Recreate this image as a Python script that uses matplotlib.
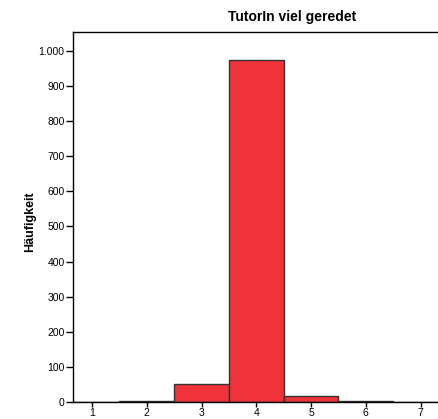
import matplotlib
matplotlib.use("Agg")
import matplotlib.pyplot as plt
from matplotlib.ticker import FuncFormatter

categories = [1, 2, 3, 4, 5, 6, 7]
counts = [1, 3, 51, 975, 17, 2, 0]
yticks = [0, 100, 200, 300, 400, 500, 600, 700, 800, 900, 1000]

plt.rcParams['font.family'] = ['Liberation Sans', 'DejaVu Sans']

W, H = 438, 419
fig = plt.figure(figsize=(W / 100, H / 100), dpi=100)
ax = fig.add_axes([73 / W, 17 / H, 375 / W, 370 / H])

ax.bar(categories, counts, width=1.0, color='#F0323A', edgecolor='#333333', linewidth=1.0, zorder=2)

ax.set_xlim(0.653, 7.5)
ax.set_ylim(0, 1054)
ax.set_xticks(categories)
ax.set_yticks(yticks)
ax.yaxis.set_major_formatter(FuncFormatter(lambda v, p: f"{int(v):,}".replace(",", ".")))
ax.tick_params(axis='y', direction='out', length=5, width=1, labelsize=7.5, colors='#000000', pad=1)
ax.tick_params(axis='x', direction='out', length=3.5, width=1, labelsize=7.5, colors='#000000', pad=0.5)
for s in ax.spines.values():
    s.set_linewidth(1.0)
    s.set_color('#000000')

fig.text(292 / W, 1 - 17 / H, 'TutorIn viel geredet', ha='center', va='center', fontsize=10, fontweight='bold')
fig.text(30 / W, 1 - 222 / H, 'Häufigkeit', ha='center', va='center', rotation=90, fontsize=9, fontweight='bold')

fig.savefig('out.png', dpi=100)
